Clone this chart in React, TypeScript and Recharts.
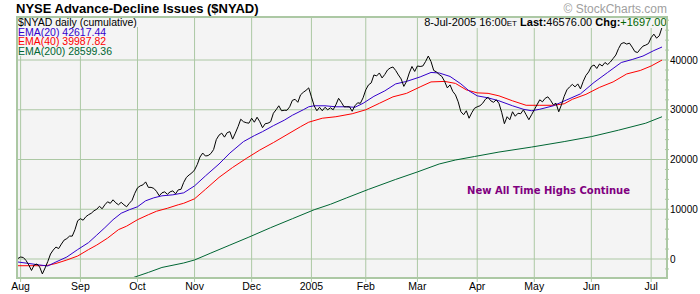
import React from 'react';
import { LineChart, Line, XAxis, YAxis, CartesianGrid } from 'recharts';

// ---------- DATA ----------
// trading-day index: 0 = 2-Aug-2004 ... 236 = 8-Jul-2005
const FIRST_DAY = -1;
const nyadValues = [
  100, 400, 300, -300, -1200, -2300, -1200, -1000, -1600, -3000,
  -1800, -500, 1000, 1800, 2400, 2100, 3000, 3800, 4100, 4600,
  4600, 5900, 7700, 8100, 7800, 8500, 8900, 9200, 9700, 10000,
  10600, 10100, 10900, 11500, 11200, 11900, 11300, 10900, 11400, 10900,
  10500, 11200, 11800, 13200, 14300, 14700, 14900, 15500, 14400, 14400,
  14200, 13600, 12700, 13300, 13500, 13000, 13500, 13700, 13100, 13900,
  14000, 15400, 16400, 16900, 17300, 17900, 19000, 20500, 21300, 20700,
  20800, 21200, 22000, 24000, 24900, 25300, 24500, 25400, 25600, 24100,
  25300, 26600, 28100, 27600, 27400, 27300, 28300, 27500, 28500, 27600,
  26400, 27200, 27300, 27600, 29300, 30000, 30800, 29800, 29900, 29900,
  30600, 31900, 32100, 31500, 33000, 33500, 33900, 34400, 32600, 30800,
  29800, 30500, 29800, 30500, 30000, 30400, 30000, 31000, 32300, 31500,
  30600, 30600, 30600, 29700, 30800, 31400, 31300, 32400, 34000, 35000,
  35400, 37000, 36800, 37400, 36400, 37100, 38000, 38400, 38600, 37900,
  37000, 36200, 34700, 35700, 37400, 38700, 37700, 38800, 38700, 38800,
  39700, 40800, 39700, 37900, 37600, 37100, 36700, 35700, 34400, 35000,
  33700, 33000, 31600, 29600, 29000, 29800, 28300, 29400, 30300, 30600,
  30800, 31300, 32100, 32500, 31800, 31500, 32000, 31300, 29500, 27200,
  28600, 28000, 29600, 28700, 29300, 29200, 30000, 29000, 28000, 29000,
  30000, 31000, 32000, 31600, 32300, 32600, 31900, 31000, 31300, 29600,
  31000, 32700, 34000, 34600, 35100, 34600, 35200, 34200, 35700, 36900,
  37600, 38700, 39000, 38300, 39200, 38800, 39500, 39100, 39600, 40300,
  41000, 42300, 43300, 43500, 43200, 43400, 42600, 41700, 41500, 42200,
  42800, 43000, 43300, 44500, 45200, 44400, 44879, 46576,
];

const ema20Days = [-1, 3, 7, 10, 13, 17, 21, 25, 28, 31, 34, 37, 40, 43, 46, 49, 52, 56, 60, 64, 68, 73, 77, 82, 86, 89, 93, 97, 100, 104, 106, 108, 112, 116, 120, 123, 126, 130, 134, 138, 142, 147, 151, 154, 158, 162, 165, 168, 172, 176, 181, 185, 188, 191, 196, 201, 206, 211, 216, 221, 225, 229, 233, 236];
const ema20Values = [-600, -900, -1200, -1400, -600, 400, 1900, 3300, 4800, 6300, 7900, 9200, 9900, 10500, 11700, 12300, 12700, 12900, 13300, 14700, 16700, 19100, 21300, 23600, 24800, 25600, 26800, 27900, 28900, 30000, 30600, 30800, 30800, 30600, 30600, 30500, 31300, 32700, 33800, 35200, 35700, 36600, 37500, 37400, 36700, 35200, 33800, 32800, 32400, 31800, 30800, 30100, 29800, 30100, 30800, 32000, 33200, 35500, 37500, 39500, 40100, 40800, 41900, 42617];

const ema40Days = [-1, 3, 7, 10, 13, 17, 21, 25, 28, 32, 36, 39, 43, 47, 50, 54, 58, 60, 64, 68, 73, 78, 83, 88, 93, 98, 103, 106, 111, 116, 119, 122, 127, 132, 137, 142, 147, 151, 156, 160, 164, 168, 172, 176, 181, 186, 191, 196, 200, 203, 208, 213, 218, 223, 228, 232, 236];
const ema40Values = [-1350, -1350, -1350, -1270, -900, -200, 600, 1900, 2800, 4200, 5900, 6600, 7900, 8900, 9600, 10200, 10900, 11200, 12100, 14000, 16400, 18400, 20200, 21900, 23400, 25000, 26600, 27500, 28300, 28600, 28900, 29200, 30000, 31300, 32600, 33300, 34600, 35600, 35700, 35300, 34000, 33400, 33300, 32800, 31800, 30900, 30900, 30900, 31200, 32100, 33100, 34500, 35600, 37200, 37900, 38800, 39988];

const ema200Days = [40, 47, 52, 60, 64, 70, 77, 84, 92, 100, 108, 114, 120, 128, 138, 146, 154, 160, 167, 176, 188, 200, 210, 220, 230, 236];
const ema200Values = [-4000, -2700, -1700, -800, -200, 1200, 2800, 4400, 6300, 8100, 9900, 11000, 12300, 14000, 16000, 17500, 19100, 19900, 20600, 21500, 22500, 23600, 24600, 25900, 27300, 28599];

const monthTickDays = [0, 22, 43, 64, 85, 107, 127, 146, 168, 189, 210, 232];
const monthTickLabels = ['Aug', 'Sep', 'Oct', 'Nov', 'Dec', '2005', 'Feb', 'Mar', 'Apr', 'May', 'Jun', 'Jul'];

const yMinorTicks = [-2000, 0, 2000, 4000, 6000, 8000, 10000, 12000, 14000, 16000, 18000, 20000, 22000, 24000, 26000, 28000, 30000, 32000, 34000, 36000, 38000, 40000, 42000, 44000, 46000, 48000];
const yGridValues = [0, 10000, 20000, 30000, 40000];

const titleText = 'NYSE Advance-Decline Issues ($NYAD)';
const legendTexts = ['$NYAD daily (cumulative)', 'EMA(20) 42617.44', 'EMA(40) 39987.82', 'EMA(200) 28599.36'];
const annotationText = 'New All Time Highs Continue';

// ---------- STYLE ----------
const GRID = '#acc8a4';
const BG = '#f4f4f4';
const FONT = '"Liberation Sans", Arial, sans-serif';
const C_BLACK = '#000000';
const C_BLUE = '#3300cc';
const C_RED = '#ff0000';
const C_GREEN = '#006633';

const pairs = (days: number[], vals: number[]) => days.map((d, i) => ({ d, v: vals[i] }));
const nyadData = nyadValues.map((v, i) => ({ d: FIRST_DAY + i, v }));
const ema20Data = pairs(ema20Days, ema20Values);
const ema40Data = pairs(ema40Days, ema40Values);
const ema200Data = pairs(ema200Days, ema200Values);

const XTick = (props: any) => {
  const { x, y, payload } = props;
  const idx = monthTickDays.indexOf(payload.value);
  return (
    <text x={x} y={y} dy="0.71em" textAnchor="middle" fontSize={10.5} fontFamily={FONT} fill="#000">
      {monthTickLabels[idx]}
    </text>
  );
};

const RTick = (props: any) => {
  const { x, y, payload } = props;
  const v = payload.value;
  return (
    <g>
      <line x1={x - 5} x2={x - 1} y1={y} y2={y} stroke={GRID} strokeWidth={1} />
      {v % 10000 === 0 ? (
        <text x={x} y={y} dy="0.36em" textAnchor="start" fontSize={10} fontFamily={FONT} fill="#000">
          {v}
        </text>
      ) : null}
    </g>
  );
};

const LTick = (props: any) => {
  const { x, y } = props;
  return <line x1={x} x2={x + 3} y1={y} y2={y} stroke={GRID} strokeWidth={1} />;
};

export default function App() {
  return (
    <div style={{ position: 'absolute', left: 0, top: 0, width: 700, height: 294, background: '#fff' }}>
      <LineChart width={700} height={294} margin={{ top: 16, right: 0, bottom: 0, left: 16 }}>
        <CartesianGrid
          yAxisId="R"
          fill={BG}
          stroke={GRID}
          strokeWidth={1}
          horizontalValues={yGridValues}
          verticalValues={monthTickDays}
        />
        <XAxis
          dataKey="d"
          type="number"
          domain={[-1.7, 238.2]}
          allowDataOverflow
          ticks={monthTickDays}
          interval={0}
          height={15}
          tick={<XTick />}
          tickSize={3}
          tickMargin={1}
          tickLine={{ stroke: GRID }}
          axisLine={false}
        />
        <YAxis
          yAxisId="R"
          orientation="right"
          type="number"
          domain={[-4020, 48850]}
          allowDataOverflow
          ticks={yMinorTicks}
          interval={0}
          width={32}
          tick={<RTick />}
          tickSize={0}
          tickMargin={2}
          tickLine={false}
          axisLine={false}
        />
        <YAxis
          yAxisId="L"
          orientation="left"
          type="number"
          domain={[-4020, 48850]}
          allowDataOverflow
          ticks={yMinorTicks}
          interval={0}
          width={0}
          tick={<LTick />}
          tickSize={0}
          tickMargin={0}
          tickLine={false}
          axisLine={false}
        />
        <Line yAxisId="R" data={ema200Data} dataKey="v" type="linear" stroke={C_GREEN} strokeWidth={1} dot={false} isAnimationActive={false} />
        <Line yAxisId="R" data={ema40Data} dataKey="v" type="linear" stroke={C_RED} strokeWidth={1} dot={false} isAnimationActive={false} />
        <Line yAxisId="R" data={ema20Data} dataKey="v" type="linear" stroke={C_BLUE} strokeWidth={1} dot={false} isAnimationActive={false} />
        <Line yAxisId="R" data={nyadData} dataKey="v" type="linear" stroke={C_BLACK} strokeWidth={1} dot={false} isAnimationActive={false} />
      </LineChart>
      <svg
        width={700}
        height={294}
        style={{ position: 'absolute', left: 0, top: 0, pointerEvents: 'none' }}
      >
        <text x={16} y={13} fontSize={13} fontWeight="bold" fontFamily={FONT} fill="#000">{titleText}</text>
        <text x={667} y={12.5} textAnchor="end" fontSize={12} fontFamily={FONT} fill="#a0a0a0">© StockCharts.com</text>
        <rect x={17} y={17} width={123} height={10} fill={BG} />
        <rect x={17} y={27} width={88} height={29} fill={BG} />
        <rect x={418} y={17} width={249} height={11} fill={BG} />
        <text x={18} y={25.8} fontSize={10.5} fontFamily={FONT} fill={C_BLACK}>{legendTexts[0]}</text>
        <text x={18} y={35.6} fontSize={10.5} fontFamily={FONT} fill={C_BLUE}>{legendTexts[1]}</text>
        <text x={18} y={45.4} fontSize={10.5} fontFamily={FONT} fill={C_RED}>{legendTexts[2]}</text>
        <text x={18} y={55.2} fontSize={10.5} fontFamily={FONT} fill={C_GREEN}>{legendTexts[3]}</text>
        <text x={666.5} y={26} textAnchor="end" fontSize={11} fontFamily={FONT} fill="#000">
          <tspan>8-Jul-2005 16:00</tspan>
          <tspan fontSize={8}>ET</tspan>
          <tspan fontWeight="bold"> Last:</tspan>
          <tspan>46576.00 </tspan>
          <tspan fontWeight="bold">Chg:</tspan>
          <tspan fill="#006600">+1697.00</tspan>
        </text>
        <text x={630} y={194} textAnchor="end" fontSize={10} fontWeight="bold" fontFamily='"DejaVu Sans", sans-serif' fill="#800080">{annotationText}</text>
        <rect x={17} y={17} width={650} height={261} fill="none" stroke={GRID} strokeWidth={2} />
      </svg>
    </div>
  );
}
